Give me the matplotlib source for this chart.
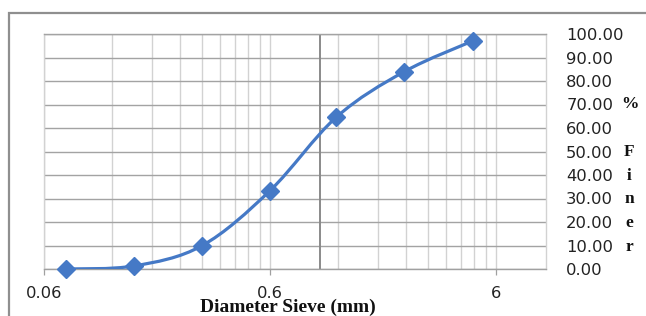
import numpy as np
import matplotlib.pyplot as plt
from matplotlib.path import Path
from matplotlib.patches import PathPatch, Rectangle
from matplotlib.ticker import FixedLocator, NullFormatter

# sieve sizes (mm) and percent finer
sieveSize = [0.075, 0.15, 0.3, 0.6, 1.18, 2.36, 4.75]
percentFiner = [0.0, 1.3, 9.9, 33.3, 64.6, 84.0, 97.1]

xTicks = [0.06, 0.6, 6]
xTickLabels = ["0.06", "0.6", "6"]
yTicks = [0, 10, 20, 30, 40, 50, 60, 70, 80, 90, 100]

lineColor = "#4579c6"

fig = plt.figure(figsize=(6.46, 3.16), dpi=100)
ax = fig.add_axes([44 / 646, 1 - 269 / 316, (546 - 44) / 646, (269 - 34) / 316])

ax.set_xscale("log")
ax.set_xlim(0.06, 10.0)
ax.set_ylim(0, 100)

# gridlines at every multiple of the decade start, like the Excel chart
minorGrid = [k * 0.06 * 10 ** d for d in (0, 1) for k in range(1, 10)] + [6.0]
ax.xaxis.set_major_locator(FixedLocator(xTicks))
ax.xaxis.set_minor_locator(FixedLocator(minorGrid))
ax.xaxis.set_minor_formatter(NullFormatter())
ax.set_xticklabels(xTickLabels)
ax.set_yticks(yTicks)
ax.set_yticklabels([f"{v:.2f}" for v in yTicks])

ax.grid(True, axis="x", which="both", color="#d2d2d2", linewidth=1.0)
ax.grid(True, axis="y", which="major", color="#a3a3a3", linewidth=1.0)
ax.set_axisbelow(True)

ax.tick_params(axis="x", which="major", direction="out", length=4, width=0.9,
               color="#a0a0a0", pad=8, labelsize=11.8, labelcolor="#222222")
ax.tick_params(axis="x", which="minor", length=0)
ax.yaxis.tick_right()
ax.tick_params(axis="y", length=0, pad=14.5, labelsize=11.8, labelcolor="#222222")

for side in ("left", "right"):
    ax.spines[side].set_color("#d2d2d2")
    ax.spines[side].set_linewidth(1.0)
ax.spines["top"].set_color("#a3a3a3")
ax.spines["bottom"].set_color("#a0a0a0")
ax.spines["top"].set_linewidth(1.0)
ax.spines["bottom"].set_linewidth(1.0)

# vertical axis crosses at 1
ax.axvline(1.0, color="#8a8a8a", linewidth=1.4, zorder=1.5)

# Excel-style smoothed line: cubic Bezier through the points in (log x, y)
lx = np.log10(sieveSize)
yy = np.array(percentFiner)
pts = np.column_stack([lx, yy])
verts = [pts[0]]
codes = [Path.MOVETO]
n = len(pts)
for i in range(n - 1):
    p0 = pts[i - 1] if i > 0 else pts[i]
    p1 = pts[i]
    p2 = pts[i + 1]
    p3 = pts[i + 2] if i + 2 < n else pts[i + 1]
    c1 = p1 + (p2 - p0) / 6.0
    c2 = p2 - (p3 - p1) / 6.0
    verts += [c1, c2, p2]
    codes += [Path.CURVE4] * 3
verts = np.array(verts)
verts[:, 0] = 10 ** verts[:, 0]
ax.add_patch(PathPatch(Path(verts, codes), facecolor="none", edgecolor=lineColor,
                       linewidth=2.3, capstyle="round", joinstyle="round", zorder=3))

ax.plot(sieveSize, percentFiner, linestyle="none", marker="D", markersize=9,
        color=lineColor, markeredgecolor=lineColor, zorder=4, clip_on=False)

fig.text(288 / 646, 1 - 307 / 316, "Diameter Sieve (mm)", ha="center", va="center",
         fontsize=14, fontweight="bold", family="Liberation Serif", color="#111111")
fig.text(629.5 / 646, 1 - 175.5 / 316, "%\n \nF\ni\nn\ne\nr", ha="center", va="center",
         fontsize=12.5, fontweight="bold", family="Liberation Serif", color="#111111",
         linespacing=1.66)

# chart area border (cropped on the right and bottom)
fig.add_artist(Rectangle((9 / 646, -0.2), 1.2, 1 - 13 / 316 + 0.2, transform=fig.transFigure,
                         facecolor="none", edgecolor="#8f8f8f", linewidth=1.6))

fig.savefig("out.png", dpi=100)
